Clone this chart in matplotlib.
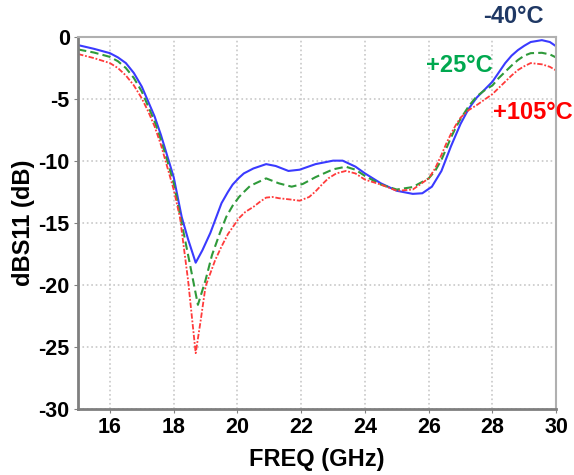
import numpy as np
import matplotlib.pyplot as plt

plt.rcParams['font.family'] = ['Liberation Sans', 'DejaVu Sans']
plt.rcParams['axes.unicode_minus'] = False

# data (GHz, dB)
freq_m40 = [15.0, 15.5, 16.0, 16.25, 16.5, 16.75, 17.0, 17.2, 17.4, 17.6, 17.8, 18.0, 18.25,
            18.45, 18.69, 18.9, 19.15, 19.5, 19.7, 19.85, 20.05, 20.2, 20.35, 20.5, 20.9, 21.2,
            21.6, 21.95, 22.45, 23.0, 23.3, 23.7, 24.0, 24.5, 25.0, 25.5, 25.8, 26.1, 26.4,
            26.7, 27.0, 27.25, 27.5, 27.75, 28.0, 28.2, 28.4, 28.6, 28.8, 29.0, 29.2, 29.55,
            29.8, 30.0]
s11_m40 = [-0.65, -0.95, -1.3, -1.64, -2.1, -2.9, -4.0, -5.2, -6.4, -7.9, -9.6, -11.3, -14.5,
           -16.3, -18.2, -17.2, -15.8, -13.4, -12.5, -11.9, -11.35, -11.0, -10.8, -10.6, -10.25,
           -10.4, -10.8, -10.7, -10.25, -9.97, -9.97, -10.45, -11.0, -11.8, -12.4, -12.65,
           -12.6, -12.07, -10.8, -8.8, -7.0, -5.8, -4.9, -4.25, -3.6, -2.85, -2.1, -1.5, -1.05,
           -0.7, -0.4, -0.25, -0.4, -0.75]

freq_p25 = [15.0, 15.5, 16.0, 16.25, 16.5, 16.75, 17.0, 17.2, 17.4, 17.6, 17.8, 18.0, 18.25,
            18.5, 18.76, 19.0, 19.2, 19.45, 19.65, 19.85, 20.05, 20.2, 20.4, 20.9, 21.3, 21.7,
            22.05, 22.45, 23.0, 23.4, 23.7, 24.0, 24.5, 25.0, 25.5, 26.0, 26.2, 26.4, 26.55,
            26.7, 26.85, 27.0, 27.25, 27.5, 27.75, 28.0, 28.2, 28.4, 28.6, 28.8, 29.0, 29.2,
            29.55, 29.8, 30.0]
s11_p25 = [-1.0, -1.25, -1.6, -1.95, -2.5, -3.3, -4.4, -5.6, -6.8, -8.3, -10.0, -11.8, -15.0,
           -18.2, -21.6, -19.6, -17.6, -15.8, -14.5, -13.6, -12.9, -12.5, -12.0, -11.4, -11.8,
           -12.07, -11.85, -11.3, -10.67, -10.46, -10.7, -11.2, -11.9, -12.3, -12.1, -11.4,
           -10.8, -9.9, -9.0, -8.1, -7.3, -6.6, -5.6, -4.8, -4.3, -3.9, -3.3, -2.8, -2.3, -1.85,
           -1.5, -1.3, -1.27, -1.4, -1.65]

freq_p105 = [15.0, 15.5, 16.0, 16.25, 16.5, 16.75, 17.0, 17.2, 17.4, 17.6, 17.8, 18.0, 18.2,
             18.45, 18.69, 18.85, 19.0, 19.3, 19.5, 19.7, 20.05, 20.25, 20.5, 20.7, 20.9, 21.1,
             21.3, 21.65, 21.95, 22.25, 22.45, 22.65, 22.85, 23.1, 23.4, 23.7, 24.0, 24.5, 25.0,
             25.5, 26.0, 26.2, 26.4, 26.55, 26.7, 26.85, 27.0, 27.25, 27.5, 27.75, 28.0, 28.2,
             28.4, 28.6, 28.8, 29.0, 29.2, 29.55, 29.8, 30.0]
s11_p105 = [-1.37, -1.7, -2.1, -2.5, -3.1, -3.9, -4.95, -6.0, -7.2, -8.7, -10.5, -12.3, -14.6,
            -19.6, -25.5, -22.8, -20.1, -18.0, -16.9, -15.9, -14.6, -14.1, -13.7, -13.3, -12.95,
            -12.9, -13.0, -13.1, -13.2, -12.9, -12.45, -11.9, -11.4, -11.0, -10.8, -11.0, -11.5,
            -11.9, -12.4, -12.3, -11.4, -10.6, -9.5, -8.6, -7.8, -7.1, -6.5, -5.9, -5.5, -5.05,
            -4.6, -4.1, -3.6, -3.1, -2.66, -2.35, -2.1, -2.2, -2.4, -2.7]

xticks = [16, 18, 20, 22, 24, 26, 28, 30]
yticks = [0, -5, -10, -15, -20, -25, -30]

fig = plt.figure(figsize=(5.74, 4.75), dpi=100)
ax = fig.add_axes([0.136, 0.139, 0.833, 0.783])

ax.plot(freq_m40, s11_m40, color='#3a3aff', lw=1.5, ls='-')
ax.plot(freq_p25, s11_p25, color='#2f9a3a', lw=1.5, ls=(0, (4, 2)))
ax.plot(freq_p105, s11_p105, color='#ff3b3b', lw=1.3, ls=(0, (3, 1, 1, 1)))

ax.set_xlim(15, 30)
ax.set_ylim(-30, 0)
ax.set_xticks(xticks)
ax.set_yticks(yticks)
ax.grid(True, color='#c8c8c8', ls=':', lw=1.2)

ax.tick_params(labelsize=15.5, length=3, color='#808080', pad=3)
for lab in ax.get_xticklabels() + ax.get_yticklabels():
    lab.set_fontweight('bold')

for side in ['left', 'bottom']:
    ax.spines[side].set_color('#7f7f7f')
    ax.spines[side].set_linewidth(2)
for side in ['top', 'right']:
    ax.spines[side].set_color('#b0b0b0')
    ax.spines[side].set_linewidth(1.5)

ax.set_xlabel('FREQ (GHz)', fontsize=17, fontweight='bold')
ax.set_ylabel('dBS11 (dB)', fontsize=17, fontweight='bold')
ax.xaxis.set_label_coords(0.5, -0.105)
ax.yaxis.set_label_coords(-0.09, 0.5)

fig.text(0.894, 0.966, '-40°C', color='#1f3864', fontsize=17, fontweight='bold', ha='center', va='center')
fig.text(0.801, 0.863, '+25°C', color='#00a84f', fontsize=17, fontweight='bold', ha='center', va='center')
fig.text(0.997, 0.764, '+105°C', color='#ff0000', fontsize=17, fontweight='bold', ha='right', va='center')

fig.savefig('out.png', dpi=100)
